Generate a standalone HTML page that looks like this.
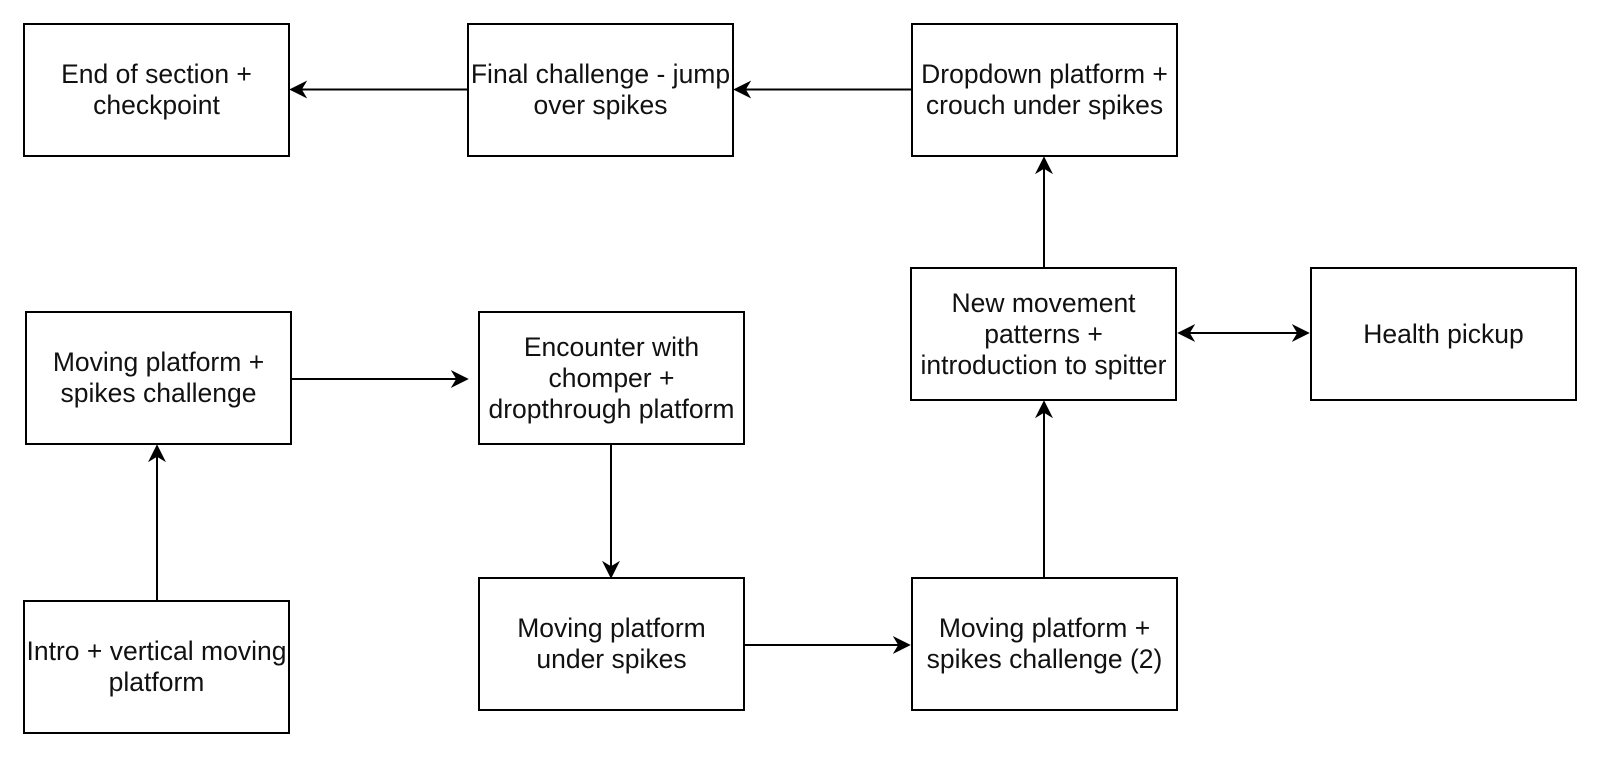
<!DOCTYPE html>
<html><head><meta charset="utf-8"><style>
body{margin:0;background:#fff;width:1600px;height:757px;overflow:hidden;position:relative;font-family:"Liberation Sans",Arial,sans-serif}
.b{position:absolute;box-sizing:border-box;border:2px solid #000;background:#fff;display:flex;align-items:center;justify-content:center;text-align:center;font-size:26.5px;line-height:31px;color:#111;width:267px;height:134px;white-space:nowrap}
svg{position:absolute;left:0;top:0}
</style></head><body>
<svg width="1600" height="757">
<defs><marker id="a" viewBox="0 0 10 10" refX="9" refY="5" markerWidth="9" markerHeight="9" orient="auto-start-reverse"><path d="M0,0 L10,5 L0,10 L3,5 z" fill="#000"/></marker></defs>
<g stroke="#000" stroke-width="2" fill="none">
<line x1="467" y1="89.5" x2="291" y2="89.5" marker-end="url(#a)"/>
<line x1="911" y1="89.5" x2="735" y2="89.5" marker-end="url(#a)"/>
<line x1="1044" y1="267" x2="1044" y2="158" marker-end="url(#a)"/>
<line x1="1179" y1="333" x2="1308" y2="333" marker-start="url(#a)" marker-end="url(#a)"/>
<line x1="291" y1="379" x2="467" y2="379" marker-end="url(#a)"/>
<line x1="157" y1="600" x2="157" y2="446" marker-end="url(#a)"/>
<line x1="611" y1="445" x2="611" y2="577" marker-end="url(#a)"/>
<line x1="745" y1="645" x2="909" y2="645" marker-end="url(#a)"/>
<line x1="1044" y1="577" x2="1044" y2="402" marker-end="url(#a)"/>
</g></svg>
<div class="b" style="left:23px;top:23px">End of section +<br>checkpoint</div>
<div class="b" style="left:467px;top:23px">Final challenge - jump<br>over spikes</div>
<div class="b" style="left:911px;top:23px">Dropdown platform +<br>crouch under spikes</div>
<div class="b" style="left:910px;top:267px">New movement<br>patterns +<br>introduction to spitter</div>
<div class="b" style="left:1310px;top:267px">Health pickup</div>
<div class="b" style="left:25px;top:311px">Moving platform +<br>spikes challenge</div>
<div class="b" style="left:478px;top:311px">Encounter with<br>chomper +<br>dropthrough platform</div>
<div class="b" style="left:23px;top:600px">Intro + vertical moving<br>platform</div>
<div class="b" style="left:478px;top:577px">Moving platform<br>under spikes</div>
<div class="b" style="left:911px;top:577px">Moving platform +<br>spikes challenge (2)</div>
</body></html>
